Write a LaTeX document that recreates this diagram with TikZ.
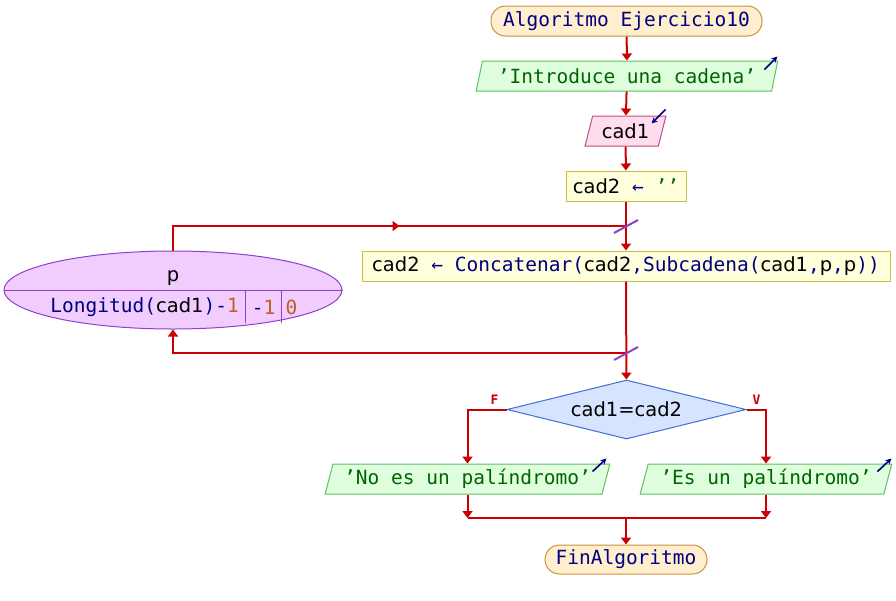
\documentclass[tikz,border=0pt]{standalone}
\usepackage{fontspec}
\setmainfont{DejaVu Sans Mono}[Ligatures=ResetAll]
\newfontfamily\varfont{DejaVu Sans}
\usetikzlibrary{shapes.geometric,arrows.meta,calc}
\definecolor{flowred}{HTML}{CC0000}
\definecolor{termf}{HTML}{FFEFCF}
\definecolor{termb}{HTML}{CC9040}
\definecolor{outf}{HTML}{DEFEDE}
\definecolor{outb}{HTML}{60C060}
\definecolor{inf}{HTML}{FFDDEE}
\definecolor{inb}{HTML}{C05080}
\definecolor{asgf}{HTML}{FFFFDD}
\definecolor{asgb}{HTML}{C8C040}
\definecolor{loopf}{HTML}{F0CCFF}
\definecolor{loopb}{HTML}{9040C8}
\definecolor{condf}{HTML}{D6E4FF}
\definecolor{condb}{HTML}{4070D0}
\definecolor{kwc}{HTML}{000080}
\definecolor{strc}{HTML}{006400}
\definecolor{numc}{HTML}{C06020}
\newcommand\PK[1]{\textcolor{kwc}{#1}}
\newcommand\PS[1]{\textcolor{strc}{#1}}
\newcommand\PN[1]{\textcolor{numc}{#1}}
\newcommand\PV[1]{{\varfont\textcolor{black}{#1}}}
\newcommand\Q{\symbol{39}}
\begin{document}
\begin{tikzpicture}[x=1pt,y=-1pt,
  font=\fontsize{19.5}{23}\selectfont,
  line/.style={draw=flowred, line width=2pt},
  flow/.style={line, -{Triangle[width=10pt,length=7pt]}},
  term/.style={rectangle, draw=termb, fill=termf, rounded corners=14.5pt, minimum height=30pt, inner sep=0pt, line width=1pt},
  para/.style={trapezium, trapezium left angle=70, trapezium right angle=110, trapezium stretches=true, minimum height=30pt, inner sep=0pt, line width=1pt},
  outp/.style={para, draw=outb, fill=outf},
  inp/.style={para, draw=inb, fill=inf},
  asgn/.style={rectangle, draw=asgb, fill=asgf, minimum height=30pt, inner sep=0pt, line width=1pt},
  icon/.style={draw=kwc, line width=1.6pt, -{Stealth[length=6pt,width=6pt]}},
  slash/.style={draw=loopb, line width=2pt},
  lbl/.style={text=flowred, font=\fontsize{13}{15}\selectfont\bfseries}
]
\useasboundingbox (0,0) rectangle (896,600);

\node[term, minimum width=271pt] (start) at (626.5,21) {\PK{Algoritmo Ejercicio10}};
\node[outp, minimum width=302pt] (out1) at (627,76) {\PS{\Q Introduce una cadena\Q}};
\node[inp, minimum width=81pt] (in1) at (625.5,131) {\PV{cad1}};
\node[asgn, minimum width=120pt] (asg) at (626,186) {\PV{cad2} \PK{←} \PS{\Q\Q}};
\node[asgn, minimum width=528pt] (body) at (626,266) {\PV{cad2} \PK{←} \PK{Concatenar(}\PV{cad2}\PK{,Subcadena(}\PV{cad1}\PK{,}\PV{p}\PK{,}\PV{p}\PK{))}};
\node[ellipse, draw=loopb, fill=loopf, line width=1pt, minimum width=338pt, minimum height=78pt, inner sep=0pt] (loopE) at (173,290) {};
\node[diamond, draw=condb, fill=condf, line width=1pt, aspect=4.05, minimum width=239pt, minimum height=59pt, inner sep=0pt] (cond) at (626.5,409.5) {\PV{cad1=cad2}};
\node[outp, minimum width=285pt] (no) at (467.5,479) {\PS{\Q No es un palíndromo\Q}};
\node[outp, minimum width=252pt] (yes) at (766,479) {\PS{\Q Es un palíndromo\Q}};
\node[term, minimum width=162pt, minimum height=29pt] (end) at (626,559.5) {\PK{FinAlgoritmo}};

% loop ellipse contents
\draw[loopb, line width=1pt] (loopE.west) -- (loopE.east);
\draw[loopb, line width=1pt] ($(loopE.center)+(72.7,0)$) -- ++(0,32.5);
\draw[loopb, line width=1pt] ($(loopE.center)+(108.7,0)$) -- ++(0,32.5);
\node (pvar) at ($(loopE.center)+(0,-12)$) {\PV{p}};
\node[anchor=east, inner sep=0pt] (pini) at ($(loopE.center)+(66,17)$) {\PK{Longitud(}\PV{cad1}\PK{)-}\PN{1}};
\node[inner sep=0pt] (pfin) at ($(loopE.center)+(90.7,17)$) {\PK{-}\PN{1}};
\node[inner sep=0pt] (pstep) at ($(loopE.center)+(118.5,17)$) {\PN{0}};

\coordinate (ltop) at (626,226);
\coordinate (lbot) at (626,353);
\coordinate (j) at (626,518);

% main flow
\draw[flow] (start) -- (out1);
\draw[flow] (out1) -- (in1);
\draw[flow] (in1) -- (asg);
\draw[flow] (asg) -- (body);
\draw[flow] (body) -- (cond);

% loop back lines
\draw[line] (loopE.north) |- (ltop);
\draw[flow] (loopE.north |- ltop) -- ($(loopE.north |- ltop)!0.5!(ltop)$);
\draw[flow] (lbot) -| (loopE.south);
\draw[slash] ($(ltop)+(-12,7)$) -- ($(ltop)+(12,-6)$);
\draw[slash] ($(lbot)+(-12,7)$) -- ($(lbot)+(12,-6)$);

% branches
\draw[flow] (cond.west) -| (no.north);
\draw[flow] (cond.east) -| (yes.north);
\node[lbl] (flbl) at ($(cond.west)+(-12,-10)$) {F};
\node[lbl] (vlbl) at ($(cond.east)+(10,-10)$) {V};
\draw[flow] (no.south) -- (no.south |- j);
\draw[flow] (yes.south) -- (yes.south |- j);
\draw[line] (no.south |- j) -- (yes.south |- j);
\draw[flow] (j) -- (end);

% io icons
\draw[icon] ($(out1.top right corner)+(-14,9)$) -- ++(13,-13);
\draw[icon] ($(in1.top right corner)+(-1,-6)$) -- ++(-14,14);
\draw[icon] ($(no.top right corner)+(-18,8)$) -- ++(14,-13);
\draw[icon] ($(yes.top right corner)+(-15,8)$) -- ++(14,-13);
\end{tikzpicture}
\end{document}
